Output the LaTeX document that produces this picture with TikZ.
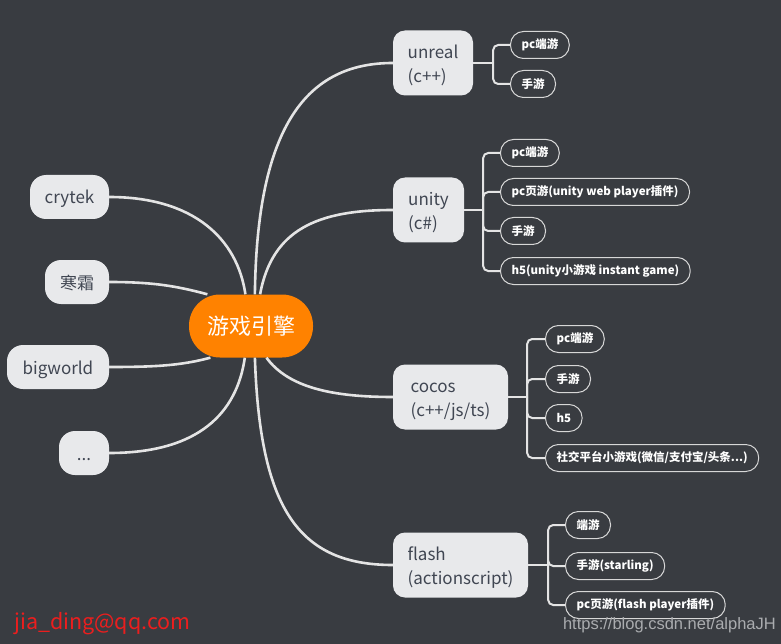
\documentclass[tikz,border=0pt]{standalone}
\usepackage{fontspec}
\setmainfont{Noto Sans CJK SC}
\newfontfamily\wmfont{Liberation Sans}
\definecolor{bgcol}{RGB}{57,60,65}
\definecolor{nodefill}{RGB}{232,233,235}
\definecolor{nodetext}{RGB}{64,70,82}
\definecolor{orangec}{RGB}{255,130,0}
\definecolor{linkcol}{RGB}{228,228,228}
\definecolor{leafline}{RGB}{215,215,215}
\definecolor{wmred}{RGB}{235,30,30}
\definecolor{wmgray}{RGB}{170,172,175}
\newcommand{\topstrut}{\rule{0pt}{19pt}}
\begin{document}
\begin{tikzpicture}[x=1pt,y=-1pt,
  mainbox/.style={fill=nodefill, rounded corners=12pt, text=nodetext, font=\fontsize{17}{24}\selectfont, align=left, inner sep=0pt, minimum height=65pt},
  sidebox/.style={fill=nodefill, rounded corners=16pt, text=nodetext, font=\fontsize{17}{20}\selectfont, minimum height=44pt, inner sep=0pt, text height=16pt, text depth=2pt},
  leaf/.style={draw=leafline, line width=1pt, rounded corners=13pt, text=white, font=\fontsize{11.5}{13}\selectfont\bfseries, minimum height=27pt, inner xsep=11pt, inner ysep=0pt, anchor=west},
  link/.style={draw=linkcol, line width=2.6pt},
  brace/.style={draw=linkcol, line width=2pt, rounded corners=5pt}]
\fill[bgcol] (0,0) rectangle (781,644);

% center
\node[fill=orangec, rounded corners=31pt, minimum width=124pt, minimum height=63pt, text=white, font=\fontsize{22}{26}\selectfont, inner sep=0pt] (c) at (251,326) {游戏引擎};

% main right nodes
\node[mainbox, minimum width=80pt] (unreal) at (433,63) {\topstrut unreal\\(c++)};
\node[mainbox, minimum width=71pt] (unity) at (428.5,210) {\topstrut unity\\(c\#)};
\node[mainbox, minimum width=115pt] (cocos) at (450.5,397) {\topstrut cocos\\(c++/js/ts)};
\node[mainbox, minimum width=135pt] (flash) at (460.5,565) {\topstrut flash\\(actionscript)};

% left nodes
\node[sidebox, minimum width=79pt] (crytek) at (69.5,197) {crytek};
\node[sidebox, minimum width=64pt] (hanshuang) at (77,282) {寒霜};
\node[sidebox, minimum width=102pt] (bigworld) at (58,367) {bigworld};
\node[sidebox, minimum width=50pt] (etc) at (84,453) {...};

% connectors center
\draw[link] (c.83) .. controls +(2,-170) and +(-85,0) .. (unreal.west);
\draw[link] (c.74) .. controls +(12,-65) and +(-75,0) .. (unity.west);
\draw[link] (c.296) .. controls +(22,30) and +(-60,0) .. (cocos.west);
\draw[link] (c.277) .. controls +(5,150) and +(-95,0) .. (flash.west);
\draw[link] (crytek.east) .. controls +(85,0) and +(-8,-55) .. (c.100);
\draw[link] (hanshuang.east) .. controls +(45,0) and +(-30,-8) .. (c.144);
\draw[link] (bigworld.east) .. controls +(45,0) and +(-30,8) .. (c.218);
\draw[link] (etc.east) .. controls +(90,0) and +(-8,55) .. (c.259);

% leaves unreal
\node[leaf] (u1) at (510,45) {pc端游};
\node[leaf] (u2) at (510,84) {手游};
\coordinate (bu) at ([xshift=20pt]unreal.east);
\draw[brace] (unreal.east) -- (bu);
\foreach \n in {u1,u2} \draw[brace] (bu) |- (\n.west);

% leaves unity
\node[leaf] (y1) at (500,153) {pc端游};
\node[leaf] (y2) at (500,192) {pc页游(unity web player插件)};
\node[leaf] (y3) at (500,231) {手游};
\node[leaf] (y4) at (500,271) {h5(unity小游戏 instant game)};
\coordinate (by) at ([xshift=19pt]unity.east);
\draw[brace] (unity.east) -- (by);
\foreach \n in {y1,y2,y3,y4} \draw[brace] (by) |- (\n.west);

% leaves cocos
\node[leaf] (k1) at (545,339) {pc端游};
\node[leaf] (k2) at (545,379) {手游};
\node[leaf] (k3) at (545,418) {h5};
\node[leaf] (k4) at (545,458) {社交平台小游戏(微信/支付宝/头条...)};
\coordinate (bk) at ([xshift=19pt]cocos.east);
\draw[brace] (cocos.east) -- (bk);
\foreach \n in {k1,k2,k3,k4} \draw[brace] (bk) |- (\n.west);

% leaves flash
\node[leaf] (f1) at (565,525) {端游};
\node[leaf] (f2) at (565,566) {手游(starling)};
\node[leaf] (f3) at (565,605) {pc页游(flash player插件)};
\coordinate (bf) at ([xshift=20pt]flash.east);
\draw[brace] (flash.east) -- (bf);
\foreach \n in {f1,f2,f3} \draw[brace] (bf) |- (\n.west);

% watermarks
\node[anchor=west, text=wmred, font=\fontsize{21.5}{23}\selectfont, inner sep=0pt] (wm1) at (14,624) {jia\_ding@qq.com};
\node[anchor=east, text=wmgray, font=\wmfont\fontsize{16.5}{18}\selectfont, inner sep=0pt] (wm2) at (776,625) {https://blog.csdn.net/alphaJH};
\end{tikzpicture}
\end{document}
